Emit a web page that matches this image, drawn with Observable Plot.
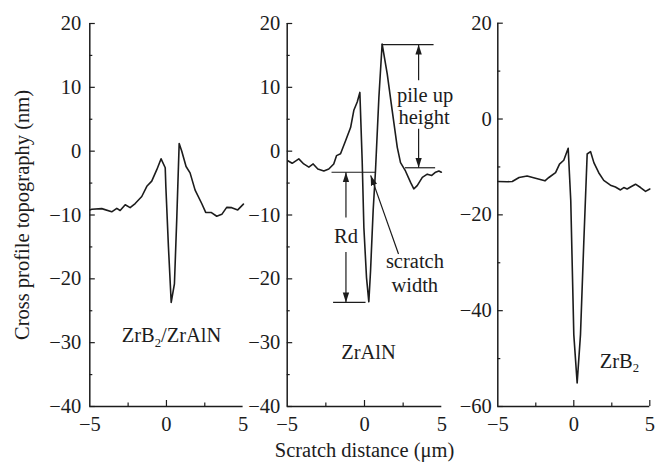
<!DOCTYPE html>
<html><head><meta charset="utf-8">
<script src="https://cdn.jsdelivr.net/npm/d3@7"></script>
<script src="https://cdn.jsdelivr.net/npm/@observablehq/plot@0.6"></script>
<style>
html,body{margin:0;padding:0;background:#fff;}
#chart{position:relative;width:662px;height:466px;overflow:hidden;background:#fff;}
#chart svg{position:absolute;top:0;}
</style></head><body><div id="chart"></div>
<script>
// ---- data ----
const xAxisTitle = "Scratch distance (μm)";
const yAxisTitle = "Cross profile topography (nm)";
const panelNames = ["ZrB₂/ZrAlN", "ZrAlN", "ZrB₂"];

const xTicks = [-5, 0, 5];
const xMinorTicks = [-2.5, 2.5];

// Panel 1: ZrB2/ZrAlN
const p1X = [-5, -4.87, -4.22, -3.57, -3.24, -3.02, -2.69, -2.37, -2.04, -1.61, -1.28, -0.96, -0.63, -0.35, -0.08, -0.04, 0.13, 0.31, 0.52, 0.67, 0.83, 1.0, 1.28, 1.54, 1.87, 2.3, 2.56, 2.91, 3.28, 3.61, 3.93, 4.26, 4.65, 5.02];
const p1Y = [-9.2, -9.1, -9.0, -9.5, -8.95, -9.3, -8.4, -8.85, -8.2, -7.1, -5.5, -4.7, -2.9, -1.2, -2.6, -5.5, -15, -23.7, -20.8, -10.8, 1.2, 0, -2.4, -3.4, -6.1, -8.2, -9.6, -9.6, -10.2, -9.9, -8.8, -8.85, -9.2, -8.3];
const p1YTicks = [20, 10, 0, -10, -20, -30, -40];
const p1YMinor = [15, 5, -5, -15, -25, -35];

// Panel 2: ZrAlN
const p2X = [-4.96, -4.68, -4.25, -3.93, -3.6, -3.32, -3.02, -2.63, -2.31, -1.99, -1.81, -1.55, -1.23, -0.9, -0.69, -0.47, -0.3, -0.15, -0.04, 0.13, 0.28, 0.39, 0.56, 0.71, 0.93, 1.14, 1.47, 1.79, 2.12, 2.33, 2.65, 2.98, 3.19, 3.41, 3.74, 4.06, 4.35, 4.6, 4.81, 4.97];
const p2Y = [-1.5, -1.9, -1.2, -2.0, -2.5, -2.0, -2.8, -3.1, -2.8, -2.0, -0.7, -0.4, 1.6, 3.7, 6.4, 7.7, 9.2, -1.5, -12, -19.8, -23.6, -18.8, -9.3, -3.1, 8.4, 16.8, 12.1, 6.4, 0.6, -1.8, -3.1, -4.9, -5.9, -5.4, -4.1, -3.6, -3.8, -3.3, -3.1, -3.3];
const p2YTicks = [20, 10, 0, -10, -20, -30, -40];
const p2YMinor = [15, 5, -5, -15, -25, -35];

// Panel 2 annotations
const guideX1 = [1.14, 2.65, -2.1, -2.0];
const guideX2 = [4.5, 4.6, 0.72, 0.1];
const guideY = [16.7, -2.6, -3.3, -23.7];
const arrowX1 = [3.5, 3.5, -1.2, -1.2, 2.2];
const arrowY1 = [11.1, 3.5, -10.4, -15.8, -16.1];
const arrowX2 = [3.5, 3.5, -1.2, -1.2, 0.4];
const arrowY2 = [16.7, -2.6, -3.3, -23.7, -3.8];
const noteText = ["pile up", "height", "Rd", "scratch", "width"];
const noteX = [3.92, 3.85, -1.2, 3.26, 3.25];
const noteY = [8.7, 5.3, -13.3, -17.3, -21.0];

// Panel 3: ZrB2
const p3X = [-5.0, -4.38, -4.05, -3.6, -3.07, -2.52, -1.9, -1.64, -1.2, -0.94, -0.66, -0.37, -0.2, 0.0, 0.22, 0.44, 0.66, 0.88, 1.1, 1.32, 1.64, 1.97, 2.41, 2.74, 3.07, 3.29, 3.51, 3.73, 4.06, 4.39, 4.72, 5.0];
const p3Y = [-13.05, -13.1, -13.05, -12.2, -11.9, -12.35, -12.9, -12.2, -11.2, -9.4, -8.6, -6.1, -17, -45, -55.1, -45, -25.5, -7.3, -6.8, -9.1, -11.2, -12.8, -13.8, -14.2, -14.8, -14.3, -14.6, -14.2, -13.6, -14.3, -15.1, -14.6];
const p3YTicks = [20, 0, -20, -40, -60];
const p3YMinor = [10, -10, -30, -50];

const labelX = [0.33, 0.26, 3.0];
const labelY = [-28.9, -31.5, -50.6];

// ---- drawing ----
const INK = "#1c1c1c";
const FONT = "'Liberation Serif', 'Times New Roman', serif";
const FS = 20.5;
const H = 466, MT = 23, MB = 60;

function panel({left, width, ml, mr, mt = MT, xs, ys, yDomain, yTicks, yMinor, xMajor, tickPad, idx, extra = []}) {
  const frameW = width - ml - mr;
  const frameH = H - mt - MB;
  const pts = xs.map((x, i) => ({x, y: ys[i]}));
  const svg = Plot.plot({
    width, height: H,
    marginLeft: ml, marginRight: mr, marginTop: mt, marginBottom: MB,
    style: {fontFamily: FONT, fontSize: FS + "px", color: INK, background: "transparent", overflow: "visible"},
    x: {domain: [-5, 5]},
    y: {domain: yDomain},
    marks: [
      Plot.axisY({ticks: yTicks, tickSize: 0, tickPadding: tickPad, label: null, fontSize: FS, fontFamily: FONT}),
      Plot.axisX({ticks: xTicks, tickSize: 0, tickPadding: 10, label: null, fontSize: FS, fontFamily: FONT}),
      Plot.tickY(yTicks, {y: d => d, insetRight: frameW - 5.5, stroke: INK, strokeWidth: 1.2}),
      Plot.tickY(yMinor, {y: d => d, insetRight: frameW - 3, stroke: INK, strokeWidth: 1.2}),
      Plot.tickX(xMajor, {x: d => d, insetTop: frameH - 6, stroke: INK, strokeWidth: 1.2}),
      Plot.tickX(xMinorTicks, {x: d => d, insetTop: frameH - 3.5, stroke: INK, strokeWidth: 1.2}),
      Plot.ruleX([-5], {stroke: INK, strokeWidth: 1.5}),
      Plot.ruleY([yDomain[0]], {stroke: INK, strokeWidth: 1.5}),
      Plot.line(pts, {x: "x", y: "y", stroke: INK, strokeWidth: 1.6, curve: "linear"}),
      Plot.text([{t: panelNames[idx], x: labelX[idx], y: labelY[idx]}], {x: "x", y: "y", text: "t", fontSize: FS, fill: INK}),
      ...extra
    ]
  });
  svg.style.left = left + "px";
  return svg;
}

const guides = guideY.map((y, i) => ({x1: guideX1[i], x2: guideX2[i], y}));
const arrows = arrowX1.map((x1, i) => ({x1, y1: arrowY1[i], x2: arrowX2[i], y2: arrowY2[i]}));
const notes = noteText.map((t, i) => ({t, x: noteX[i], y: noteY[i]}));

const chart = document.getElementById("chart");

const s1 = panel({left: 0, width: 250, ml: 89.3, mr: 7.4, xs: p1X, ys: p1Y, yDomain: [-40, 20],
  yTicks: p1YTicks, yMinor: p1YMinor, xMajor: [0], tickPad: 8.5, idx: 0,
  extra: [
    Plot.text([yAxisTitle], {frameAnchor: "left", textAnchor: "middle", lineAnchor: "middle", rotate: -90, dx: -67, fontSize: FS, fill: INK})
  ]});

const s2 = panel({left: 240, width: 220, ml: 46.7, mr: 18.7, xs: p2X, ys: p2Y, yDomain: [-40, 20],
  yTicks: p2YTicks, yMinor: p2YMinor, xMajor: [0], tickPad: 7, idx: 1,
  extra: [
    Plot.ruleY(guides, {x1: "x1", x2: "x2", y: "y", stroke: INK, strokeWidth: 1.2}),
    Plot.link(arrows, {x1: "x1", y1: "y1", x2: "x2", y2: "y2", stroke: INK, strokeWidth: 1.2, markerEnd: "arrow"}),
    Plot.text(notes, {x: "x", y: "y", text: "t", fontSize: FS, fill: INK}),
    Plot.text([xAxisTitle], {frameAnchor: "bottom", textAnchor: "middle", lineAnchor: "middle", dy: 44, fontSize: FS, fill: INK})
  ]});

const s3 = panel({left: 450, width: 212, ml: 47.3, mr: 12.7, mt: 22.7, xs: p3X, ys: p3Y, yDomain: [-60, 20],
  yTicks: p3YTicks, yMinor: p3YMinor, xMajor: [0, 5], tickPad: 6, idx: 2});

[s1, s2, s3].forEach(s => chart.appendChild(s));

// filled arrowheads
chart.querySelectorAll("marker").forEach(m => {
  m.setAttribute("viewBox", "-10 -5 10 10");
  m.setAttribute("markerWidth", "10");
  m.setAttribute("markerHeight", "10");
  m.setAttribute("markerUnits", "userSpaceOnUse");
  m.setAttribute("fill", INK);
  m.setAttribute("stroke", "none");
  const p = m.querySelector("path");
  if (p) p.setAttribute("d", "M-10,-3.2L0,0L-10,3.2Z");
});

// subscript 2 in chemical labels
chart.querySelectorAll("text").forEach(t => {
  if (t.children.length === 0 && t.textContent.includes("₂")) {
    const parts = t.textContent.split("₂");
    t.textContent = "";
    parts.forEach((part, i) => {
      if (part) {
        const ts = document.createElementNS("http://www.w3.org/2000/svg", "tspan");
        ts.textContent = part;
        if (i > 0) ts.setAttribute("dy", "-0.22em");
        t.appendChild(ts);
      }
      if (i < parts.length - 1) {
        const sub = document.createElementNS("http://www.w3.org/2000/svg", "tspan");
        sub.textContent = "2";
        sub.setAttribute("font-size", "0.62em");
        sub.setAttribute("dy", "0.35em");
        t.appendChild(sub);
      }
    });
  }
});
</script></body></html>
